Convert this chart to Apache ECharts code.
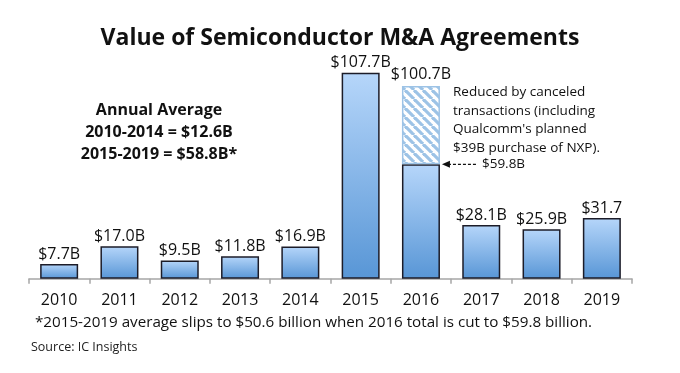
<!DOCTYPE html>
<html><head><meta charset="utf-8">
<script src="https://cdn.jsdelivr.net/npm/echarts@6/dist/echarts.min.js"></script>
<style>html,body{margin:0;padding:0;background:#fff}#c{width:680px;height:373px}</style>
</head><body><div id="c"></div>
<script>
const years = ['2010','2011','2012','2013','2014','2015','2016','2017','2018','2019'];
const values = [7.7, 17.0, 9.5, 11.8, 16.9, 107.7, 59.8, 28.1, 25.9, 31.7];
const labels = ['$7.7B','$17.0B','$9.5B','$11.8B','$16.9B','$107.7B','','$28.1B','$25.9B','$31.7'];
const canceled = [null, null, null, null, null, null, 40.9, null, null, null];
const canceledLabel = '$100.7B';
const reducedTo = 59.8;
const reducedLabel = '$59.8B';
const titleText = 'Value of Semiconductor M&A Agreements';
const avgLines = ['Annual Average', '2010-2014 = $12.6B', '2015-2019 = $58.8B*'];
const noteLines = ['Reduced by canceled', 'transactions (including', "Qualcomm's planned", '$39B purchase of NXP).'];
const footnote = '*2015-2019 average slips to $50.6 billion when 2016 total is cut to $59.8 billion.';
const source = 'Source: IC Insights';

const FONT = 'Open Sans';

// hatch pattern
const pc = document.createElement('canvas');
const s = 9; pc.width = s; pc.height = s;
const px = pc.getContext('2d');
px.fillStyle = '#ffffff'; px.fillRect(0,0,s,s);
px.strokeStyle = '#9dc3e6'; px.lineWidth = 3.2;
for (const k of [-s, 0, s]) { px.beginPath(); px.moveTo(k, 0); px.lineTo(k + s, s); px.stroke(); }

const grad = new echarts.graphic.LinearGradient(0,0,0,1,[
  {offset:0,color:'#b6d6fa'},{offset:1,color:'#5896d6'}]);

const chart = echarts.init(document.getElementById('c'));
const option = {
  animation:false,
  backgroundColor:'#ffffff',
  title:{text:titleText,left:'center',top:22,
    textStyle:{fontFamily:FONT,fontWeight:'bold',fontSize:23,color:'#111'}},
  grid:{left:29,right:48,top:49.2,bottom:94.3,containLabel:false},
  xAxis:{type:'category',data:years,
    axisLine:{lineStyle:{color:'#a6a6a6',width:1.5}},
    axisTick:{show:true,length:5,lineStyle:{color:'#a6a6a6',width:1.5}},
    axisLabel:{fontFamily:FONT,fontSize:16,color:'#111',margin:14}},
  yAxis:{type:'value',min:0,max:120,show:false,splitLine:{show:false}},
  series:[
    {type:'bar',stack:'a',data:values,barWidth:38,
      itemStyle:{color:grad,borderColor:'#1c1c28',borderWidth:1.5},
      label:{show:true,position:'top',distance:2,fontFamily:FONT,fontSize:16,color:'#111',
        formatter:p=>labels[p.dataIndex]}},
    {type:'bar',stack:'a',data:canceled,barWidth:38,
      itemStyle:{color:{image:pc,repeat:'repeat'},borderColor:'#9dc3e6',borderWidth:1.5},
      label:{show:true,position:'top',distance:4,fontFamily:FONT,fontSize:16,color:'#111',
        formatter:()=>canceledLabel}}
  ]
};
chart.setOption(option);

const idx = years.indexOf('2016');
const pt = chart.convertToPixel({seriesIndex:0}, [idx, reducedTo]);
const barRight = pt[0] + 19;
const g = [];
avgLines.forEach((t,i)=>g.push({type:'text',x:159,y:110+i*22.2,
  style:{text:t,fontFamily:FONT,fontWeight:'bold',fontSize:16,fill:'#111',align:'center',verticalAlign:'middle'}}));
noteLines.forEach((t,i)=>g.push({type:'text',x:453,y:92+i*18.8,
  style:{text:t,fontFamily:FONT,fontSize:13.5,fill:'#111',align:'left',verticalAlign:'middle'}}));
g.push({type:'line',shape:{x1:barRight+8,y1:pt[1],x2:barRight+38,y2:pt[1]},
  style:{stroke:'#111',lineWidth:1.2,lineDash:[3,2]}});
g.push({type:'polygon',shape:{points:[[barRight+2,pt[1]],[barRight+10,pt[1]-3.5],[barRight+10,pt[1]+3.5]]},
  style:{fill:'#111'}});
g.push({type:'text',x:barRight+42,y:pt[1],
  style:{text:reducedLabel,fontFamily:FONT,fontSize:13.5,fill:'#111',align:'left',verticalAlign:'middle'}});
g.push({type:'text',x:35,y:323,
  style:{text:footnote,fontFamily:FONT,fontSize:15.2,fill:'#111',align:'left',verticalAlign:'middle'}});
g.push({type:'text',x:31,y:347,
  style:{text:source,fontFamily:FONT,fontSize:12.5,fill:'#222',align:'left',verticalAlign:'middle'}});
chart.setOption({graphic:g});
</script></body></html>
